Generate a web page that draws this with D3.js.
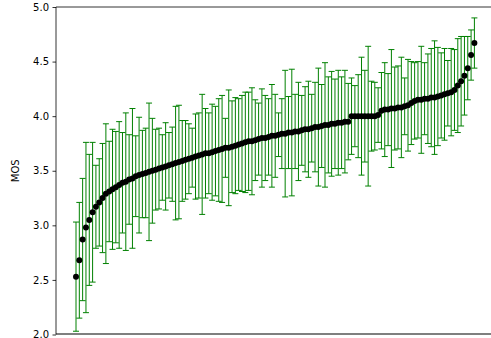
<!DOCTYPE html>
<html><head><meta charset="utf-8">
<script src="https://cdn.jsdelivr.net/npm/d3@7"></script>
<style>body{margin:0;background:#fff}svg{display:block}</style>
</head><body>
<script>
const means = [2.53,2.68,2.87,2.98,3.05,3.12,3.17,3.21,3.25,3.29,
3.31,3.33,3.35,3.37,3.39,3.40,3.42,3.43,3.45,3.46,
3.47,3.48,3.49,3.50,3.51,3.52,3.53,3.54,3.55,3.56,
3.57,3.58,3.59,3.60,3.61,3.62,3.63,3.64,3.65,3.66,
3.66,3.67,3.68,3.69,3.70,3.71,3.71,3.72,3.73,3.74,
3.75,3.76,3.77,3.77,3.78,3.79,3.80,3.80,3.81,3.82,
3.82,3.83,3.84,3.84,3.85,3.85,3.86,3.86,3.87,3.88,
3.88,3.89,3.90,3.90,3.91,3.92,3.92,3.93,3.93,3.94,
3.94,3.95,3.95,4.00,4.00,4.00,4.00,4.00,4.00,4.00,
4.00,4.01,4.05,4.06,4.06,4.07,4.07,4.08,4.08,4.09,
4.10,4.12,4.14,4.15,4.15,4.16,4.16,4.17,4.17,4.18,
4.19,4.20,4.21,4.22,4.24,4.28,4.32,4.37,4.44,4.56,4.67];
const errors = [0.50,0.53,0.56,0.78,0.60,0.64,0.38,0.40,0.50,0.64,
0.46,0.55,0.51,0.58,0.46,0.63,0.41,0.64,0.37,0.53,
0.40,0.41,0.63,0.48,0.37,0.37,0.30,0.40,0.30,0.34,
0.52,0.52,0.37,0.36,0.32,0.27,0.39,0.39,0.55,0.41,
0.37,0.44,0.41,0.47,0.49,0.27,0.53,0.42,0.44,0.42,
0.44,0.46,0.45,0.49,0.37,0.33,0.45,0.39,0.35,0.47,
0.38,0.20,0.32,0.58,0.33,0.58,0.34,0.45,0.32,0.39,
0.44,0.31,0.41,0.54,0.38,0.57,0.44,0.48,0.41,0.48,
0.42,0.47,0.35,0.35,0.28,0.38,0.54,0.42,0.64,0.32,
0.31,0.25,0.35,0.43,0.33,0.54,0.38,0.38,0.46,0.26,
0.42,0.38,0.35,0.35,0.49,0.33,0.41,0.45,0.52,0.45,
0.39,0.42,0.30,0.40,0.37,0.43,0.41,0.36,0.29,0.23,0.23];
const yTicks = [2.0,2.5,3.0,3.5,4.0,4.5,5.0];
const yLabel = "MOS";

const W = 491, H = 338;
const mLeft = 56, mRight = 498, mTop = 7, mBottom = 334.5;
const svg = d3.select("body").append("svg").attr("width", W).attr("height", H);

const n = means.length;
const x = d3.scaleLinear().domain([0, n - 1]).range([76, 474.4]);
const y = d3.scaleLinear().domain([2.0, 5.0]).range([mBottom, mTop]);

const green = "#008000";
const g = svg.append("g");
const bars = g.selectAll("g.eb").data(means.map((m, i) => ({i, m, e: errors[i]})))
  .enter().append("g").attr("class", "eb").attr("stroke", green).attr("stroke-width", 1);
bars.append("line")
  .attr("x1", d => x(d.i)).attr("x2", d => x(d.i))
  .attr("y1", d => y(d.m - d.e)).attr("y2", d => y(d.m + d.e));
bars.append("line")
  .attr("x1", d => x(d.i) - 3).attr("x2", d => x(d.i) + 3)
  .attr("y1", d => y(d.m + d.e)).attr("y2", d => y(d.m + d.e));
bars.append("line")
  .attr("x1", d => x(d.i) - 3).attr("x2", d => x(d.i) + 3)
  .attr("y1", d => y(d.m - d.e)).attr("y2", d => y(d.m - d.e));

g.selectAll("circle.pt").data(means).enter().append("circle")
  .attr("class", "pt").attr("cx", (d, i) => x(i)).attr("cy", d => y(d))
  .attr("r", 3).attr("fill", "#000");

const yAxis = d3.axisLeft(y).tickValues(yTicks).tickFormat(d3.format(".1f")).tickSize(3.5).tickPadding(3.5);
const ax = svg.append("g").attr("transform", `translate(${mLeft},0)`).call(yAxis);
ax.select(".domain").remove();
ax.selectAll("text").attr("font-family", "DejaVu Sans").attr("font-size", 10).attr("fill", "#000");
ax.selectAll("line").attr("stroke", "#000").attr("stroke-width", 0.8);

svg.append("line").attr("x1", mLeft).attr("x2", mLeft).attr("y1", mTop).attr("y2", mBottom).attr("stroke", "#000").attr("stroke-width", 0.8);
svg.append("line").attr("x1", mLeft).attr("x2", mRight).attr("y1", mTop).attr("y2", mTop).attr("stroke", "#000").attr("stroke-width", 0.8);
svg.append("line").attr("x1", mLeft).attr("x2", mRight).attr("y1", 334).attr("y2", 334).attr("stroke", "#000").attr("stroke-width", 1.2);

svg.append("text").attr("transform", `translate(19,${(mTop + mBottom) / 2}) rotate(-90)`)
  .attr("text-anchor", "middle").attr("font-family", "DejaVu Sans").attr("font-size", 10)
  .attr("fill", "#000").text(yLabel);
</script>
</body></html>
